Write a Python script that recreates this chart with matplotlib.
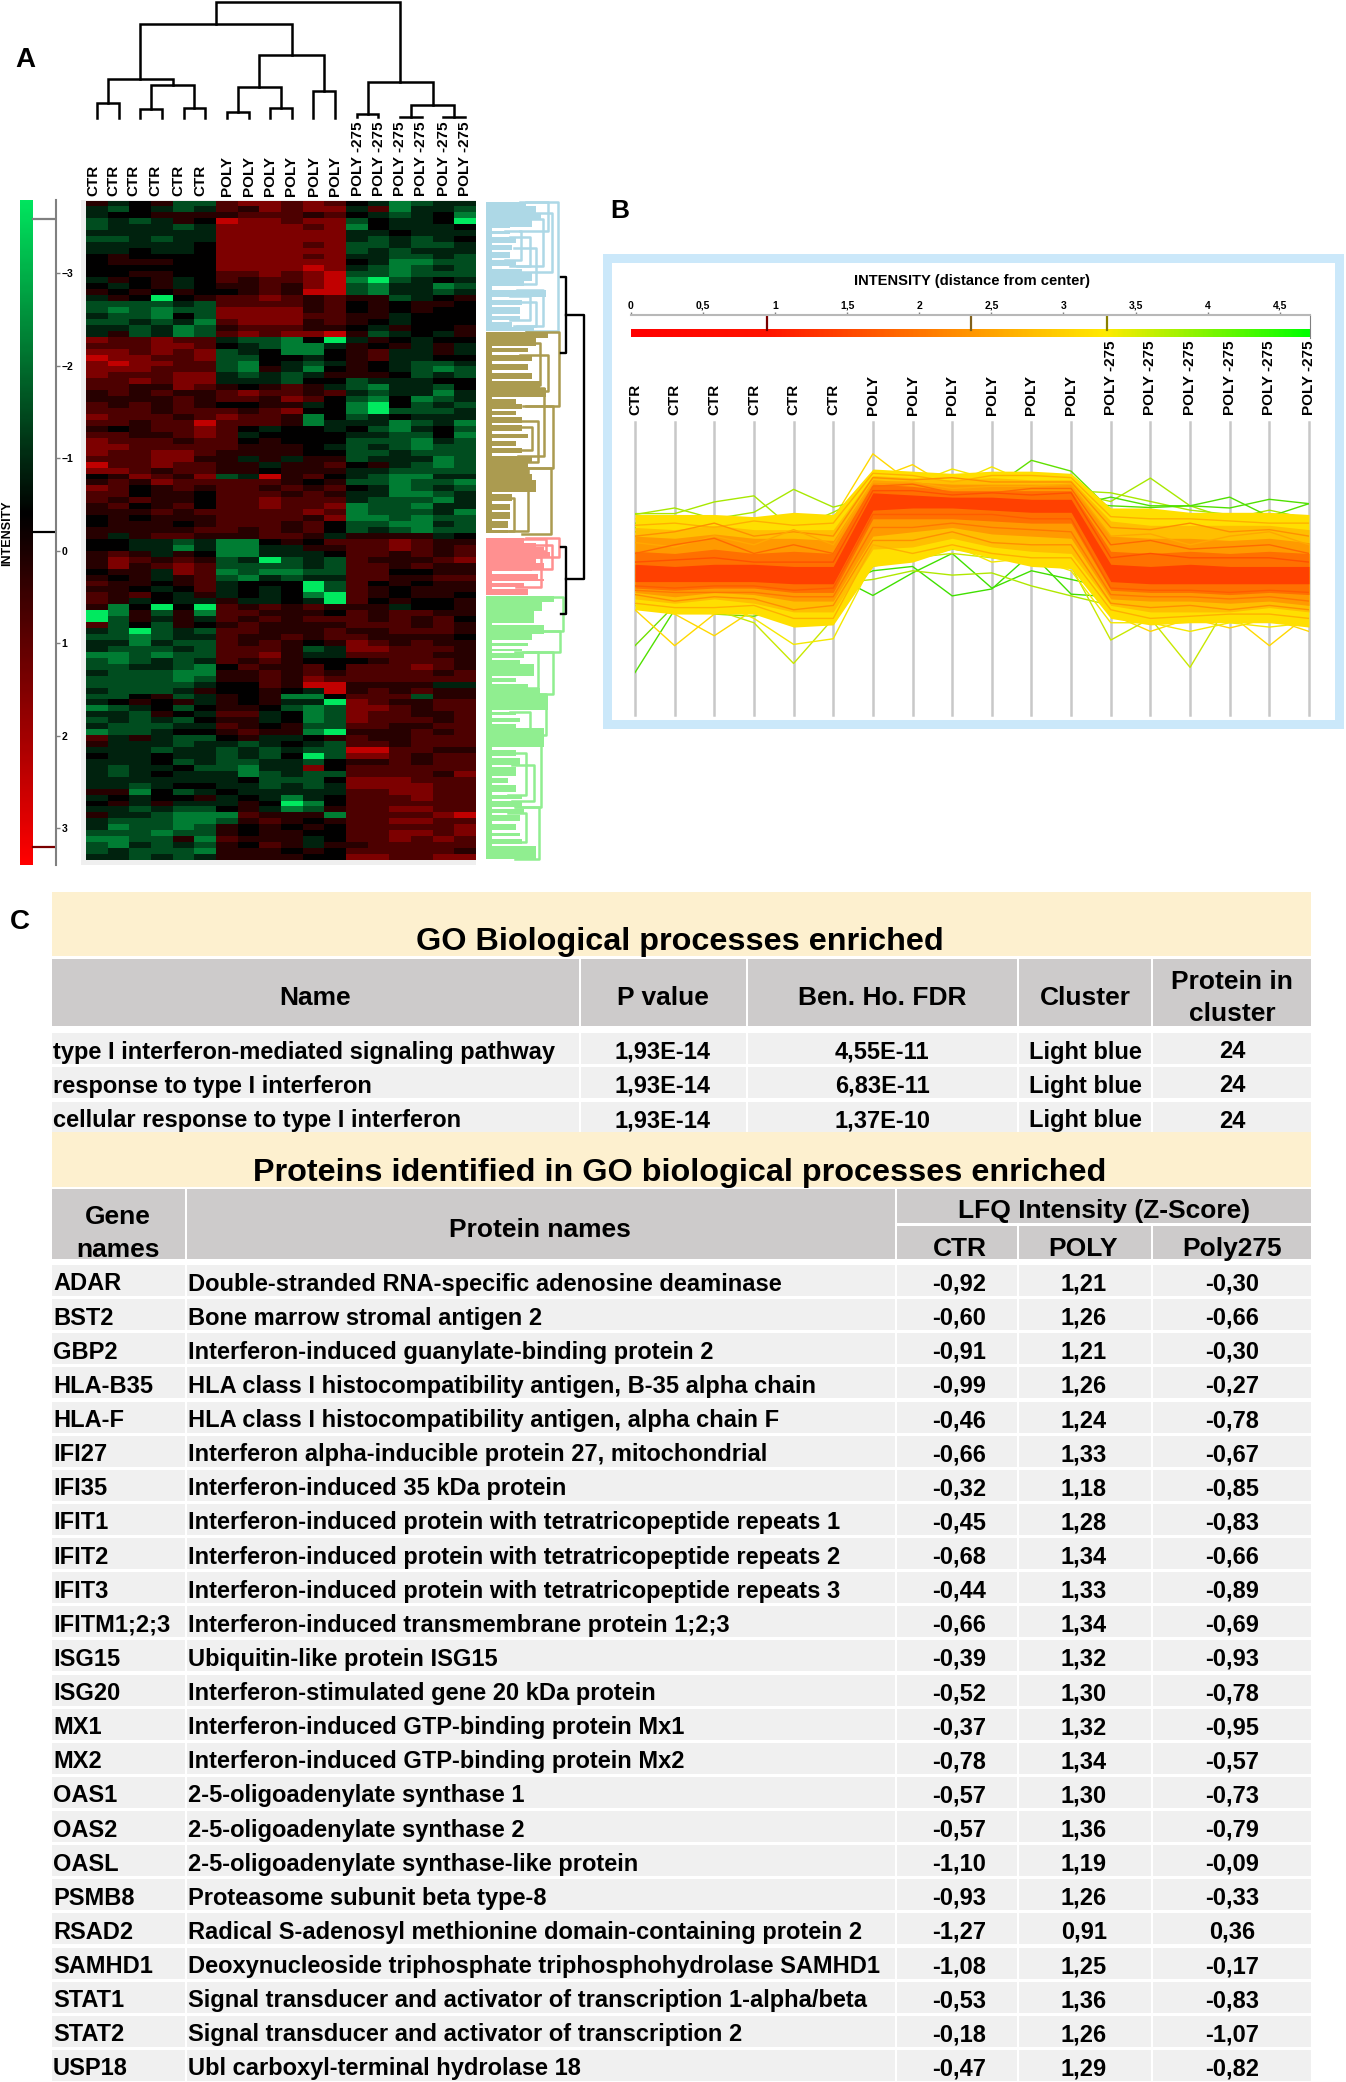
import numpy as np
import matplotlib
matplotlib.use("Agg")
import matplotlib.pyplot as plt
from matplotlib.colors import LinearSegmentedColormap
from matplotlib.patches import Rectangle

plt.rcParams['font.family'] = ['Liberation Sans', 'DejaVu Sans']
W, H = 1346, 2082

# ---------- A: heat map (one letter per cell, a = strong green ... e = black ... i = strong red)
level_values = dict(a=-3.0, b=-1.6, c=-1.0, d=-0.45, e=0.0, f=0.5, g=1.0, h=1.6, i=2.5)
heat_rows = [
 "fdefcc ghhghg edbcdd","dcedcd gfhghh dgbddc","deefff fgggfg edcdeb","cdcdfe ihhghh ceddea",
 "cdddcd hhhhgh beddde","dddddd hhhhhh ddeddd","ccdcdd hhhhhh dcdcde","ddddde hhhhgh ccdccd",
 "ddedde hhhhhh cdcddd","efeeee hhhhgh ddccdc","efffee hhhhhh edbbcc","eeeeee hhhhih dcbcdc",
 "eeffee gghghi ccbccc","dfefde gfgghi bacded","edefde ffgfhi cbddbc","fefefe efgfii cbddcd",
 "dfeaef gghgfg ffcdef","ccccdc ggggfg efeffe","cbcbcc hhhhfg efefee","dccbec hhhhgg ffdeee",
 "ccdcdb ghhhfg fedeee","ddcdbc fgggff edfeef","dfcdbc ghghhi fcdedf",
 "hgghgg dccbea dfedee","ggghhg edcbbd fefdfd","hhghgh cdebbe fgddfd","ihhggh cceede fgddee",
 "hihhgg cbedcd fedccd","hhhggg cbfdbe fedcbc","hggghh dcdcdf ffecdc","gghghh dddcee cdddee",
 "ggffhg fefgfd cbddce","fgfgff ghggfg dcddbd","ffffgf ggfhge cbebcd","gfgfgf eeffde baecdc",
 "gggfgg gfghee bacccd","hgggfg hggfbe cdeddd",
 "ggfggi gggfbd ddbcdb","fefggh gedeed ecbdec","ggffgh gdeeee ddcceb","hgggfg gefeee cccbdc",
 "hhgggg gfffed cdcbcc","hgghhg ffffee ccdccc","ggghhf fdfdff cdddbc","igghgg ffdffg efdcbc",
 "hhgfgg ffefff ddcccc","efhgfh cdifge dcbbdd","fgfhgg gggfef ccbccb","hgefgf ggfgfg edbcdc",
 "ggeffe gggfgf ddbbcd","gfgffe gghggg dcccbd","fgefge gghggh bccbdd","fffgfg gggghg bcccdb",
 "efefff ggggfh bbcbcc","efffef gggfge ccbbdc","fffffg gfgfge cdcbcc","fdfggf ffggfd ffffde",
 "eeddcd bbefeg gghgff","eeddbd bbddff gghgfg","fgfdfe bbddde ggfgfg","fhgfgf cdacdc gfffgh",
 "fhfghg ccccdc ggfgff","effdhg bcbbcc ggeeff","fefdfg cbdcdd ggffgg","gffefg deeeac gefeff",
 "ffedeg dedeac gfefff","gfgedf dedeba gfeffe","gfdedd fddeda gefeef",
 "fbeaea gfgfgf ffdeef","abfcfb ggfffe gfggff","acfdfd gfgfgg gfgfge","gcecfe fgffff gggfgf",
 "dcacdc ggfffg ffgggf","ccbcdd gffgfg gffffe",
 "ddbdcc gfgfef hgfgff","dcccdc gggfcd hhgggf","bbcbcc gghfdd ggggff","cbcdcd gfgfee efgggf",
 "ccddcb egffge ggghgf","dcccbb ffgfgf ggggfg","ccccbc ffgfhg gggggg","cccccd eegfii ffffdd",
 "dcccdf eefedi fgfgff","ccefcd fefbbe gggcff","defefd fefdda hgffgg","bcdece ffecbc hhgfgg",
 "ddcfed ggdebc hggffg","cdcdce ffdebc hgggfg","dcccdd gfefcc ggffgg","bccdee fgffba fffgfg",
 "gdfdcc efddef gffggg","fdddcd dcdedc ggfggg","dddcdd cdcdcc iiggff","eddedd cdceac hhgfgg",
 "dddecd ccddce ffgfgg","dcddec cbddhe gggggg","dcdedd dbcdcc ggggfh","dddddd deccce hhhggg",
 "ddcdee ddcdcd hhhhgg","ffbecd eddddd gghhgg","dedeef dedbde ggghgg","efdfdd dfeabe gggggg",
 "ddcdcc efdbcf gghhgg","fddcbb bgfffb gggghi","dcccbb cfgfef gghhgg","dbccbc fefefe gggggh",
 "cccbcc feffee gghhgh","bbccfb gfffde gghghg","cbdcdc fegfdf fggggg","cdcccb fffefe gggggf",
 "ddcdcd ffffee hhgghh",
]
sample_labels = ["CTR"] * 6 + ["POLY"] * 6 + ["POLY -275"] * 6
label_px_A = [93, 113, 133, 155, 178, 200, 227, 249, 270, 291, 314, 335, 358, 379, 400, 421, 444, 465]

# top dendrogram: left position, right position, join height, left child height, right child height
col_links = [
 (0, 1, 15.7, 0, 0), (2, 3, 9, 0, 0), (4, 5, 10, 0, 0), (2.5, 4.5, 33, 9, 10), (0.5, 3.5, 39, 15.7, 33),
 (6, 7, 6, 0, 0), (8, 9, 10, 0, 0), (6.5, 8.5, 31, 6, 10), (10, 11, 27.7, 0, 0), (7.5, 10.5, 63, 31, 27.7),
 (2.0, 9.0, 94, 39, 63), (12, 13, 4, 1, 1), (14, 15, 1.7, 1, 1), (16, 17, 1.7, 1, 1), (14.5, 16.5, 13.3, 1.7, 1.7),
 (12.5, 15.5, 36.3, 4, 13.3), (5.5, 14, 116, 94, 36.3),
]

# row dendrogram: (first row, last row, depth) solid runs and brackets per cluster
blue_runs = [(0.1,0.9,40),(0.9,2,50),(2,3,55),(3,4.3,46),(4.3,4.6,24),(4.6,5,6),(5,5.6,24),(5.6,6,6),(6,7,30),(7,7.4,6),
 (7.4,8.2,26),(8.2,8.6,6),(8.6,9.6,24),(9.6,10,6),(10,11,30),(11,11.4,6),(11.4,12.2,36),(12.2,13.4,46),(13.4,14.4,38),
 (14.4,15,6),(15,16.2,60),(16.2,16.6,6),(16.6,17.5,36),(17.5,17.9,6),(17.9,19,34),(19,19.4,6),(19.4,20,34),(20,20.4,6),
 (20.4,21.2,26),(21.2,21.9,48)]
blue_brackets = [(0.1,21.9,72),(2,12,66),(3,11,57),(15,21,57),(0.2,5,62),(16,20,44),(5,10,35),(6,11,44),(8,14,50),(17,21,50)]
gold_runs = [(22.1,23,62),(23,24.5,50),(24.5,24.8,6),(24.8,25.5,42),(25.5,26,6),(26,27,46),(27,27.4,6),(27.4,28.5,42),
 (28.5,28.9,6),(28.9,30,46),(30,30.4,6),(30.4,31.5,54),(31.5,33,60),(33,33.4,6),(33.4,34.2,30),(34.2,35,36),(35,35.4,6),
 (35.4,36,30),(36,36.4,6),(36.4,37.4,36),(37.4,37.8,6),(37.8,38.8,36),(38.8,39.2,6),(39.2,40,42),(40,40.4,6),(40.4,41.2,30),
 (41.2,41.6,6),(41.6,42.5,36),(42.5,43,6),(43,44,46),(44,46,42),(46,47,46),(47,49,50),(49,49.4,6),(49.4,50.6,26),(50.6,51,6),
 (51,52,24),(52,52.4,6),(52.4,53.5,24),(53.5,53.9,6),(53.9,55,22),(55,55.4,6),(55.4,56,22)]
gold_brackets = [(22.1,34.5,73),(34.5,45,67),(45,56.1,65),(24,31,54),(31.5,43,58),(37,44,52),(45,55.5,42),(50,55.5,28),(26,32,62),(38,42,46)]
pink_runs = [(56.7,57.6,38),(57.6,58.2,50),(58.2,59.2,58),(59.2,60,64),(60,61,50),(61,62,58),(62,62.4,46),(62.4,62.8,6),
 (62.8,63.6,52),(63.6,64,58),(64,64.4,6),(64.4,65,38),(65,65.4,6),(65.4,66.4,42)]
pink_brackets = [(56.7,60,73),(58,62,66),(60,65,55),(57,59,60)]
green_runs = [(66.6,67.5,68),(67.5,69,56),(69,71,48),(71,71.4,6),(71.4,73,58),(73,74,46),(74,74.4,6),(74.4,75,42),(75,75.4,6),
 (75.4,75.8,36),(75.8,76.2,6),(76.2,77,38),(77,77.3,6),(77.3,78,34),(78,80,48),(80,80.4,6),(80.4,81,30),(81,81.4,6),
 (81.4,82,42),(82,83,54),(83,85.7,62),(85.7,86.1,6),(86.1,86.6,30),(86.6,87,6),(87,87.8,34),(87.8,88.1,6),(88.1,88.7,30),
 (88.7,92,58),(92,92.4,6),(92.4,93.5,30),(93.5,93.9,6),(93.9,95,34),(95,95.3,6),(95.3,96.8,30),(96.8,97.2,6),(97.2,98,22),
 (98,98.4,6),(98.4,99.5,30),(99.5,100,6),(100,100.7,36),(100.7,101,6),(101,102,36),(102,102.4,6),(102.4,103,38),(103,103.4,6),
 (103.4,104.5,34),(104.5,104.9,6),(104.9,106,30),(106,106.4,6),(106.4,107,34),(107,107.4,6),(107.4,108.3,36),(108.3,108.6,6),
 (108.6,110.8,50)]
green_brackets = [(66.7,72.5,77),(72.5,76,74),(76,83,67),(83,90,60),(90,102,55),(102,110.8,53),(93,100,40),(103,108,40),(76,82,52),(95,101,48),(86,89,44)]
cluster_colors = ['#add8e6', '#ab9b50', '#ff9090', '#90ee90']
black_links = [(12.8, 25.6, 80, 75, 75), (58.2, 69.5, 80, 75, 75), (19.2, 63.7, 98, 80, 80)]

colourbar_ticks = [-3, -2, -1, 0, 1, 2, 3]
colourbar_marks = [-3.58, -0.2, 3.2]
colourbar_mark_colors = ['#808080', '#000000', '#7a0000']

# ---------- B: profile plot
band_top = [
 [.8,.8,.8,.75,.85,.8, 1.85,1.8,1.75,1.8,1.8,1.75, .95,.95,.85,.85,.85,.8],
 [.5,.45,.55,.45,.45,.45, 1.7,1.65,1.6,1.65,1.6,1.6, .65,.55,.55,.55,.55,.45],
 [.3,.25,.35,.25,.25,.2, 1.6,1.55,1.5,1.5,1.5,1.5, .3,.25,.25,.2,.25,.15],
 [-.05,-.1,0,-.1,-.05,-.1, 1.5,1.45,1.35,1.35,1.35,1.35, -.05,-.1,-.05,-.1,-.05,-.1],
 [-.35,-.4,-.35,-.35,-.4,-.4, 1.3,1.25,1.2,1.2,1.15,1.15, -.35,-.4,-.35,-.4,-.4,-.4],
]
band_bottom = [
 [-1.4,-1.5,-1.5,-1.5,-1.8,-1.75, -.4,-.3,0,-.2,-.4,-.45, -1.6,-1.75,-1.7,-1.7,-1.7,-1.8],
 [-1.15,-1.25,-1.15,-1.25,-1.45,-1.45, 0,.05,.25,.05,-.05,-.1, -1.3,-1.45,-1.45,-1.45,-1.35,-1.45],
 [-1,-1.1,-1,-1.05,-1.2,-1.2, .3,.4,.5,.35,.3,.25, -1.15,-1.2,-1.2,-1.25,-1.2,-1.3],
 [-.9,-.95,-.9,-.9,-1,-1, .7,.7,.7,.65,.6,.6, -.95,-1,-1,-1.05,-1,-1.05],
 [-.75,-.75,-.75,-.75,-.8,-.8, .9,.95,.95,.9,.85,.85, -.75,-.8,-.8,-.8,-.8,-.8],
]
band_colors = ['#ffdf00', '#ffbf00', '#ff9a00', '#ff7000', '#ff4000']
inner_profiles = [
 [.55,.6,.5,.65,.55,.6,1.75,1.7,1.55,1.7,1.7,1.65,.75,.7,.7,.65,.6,.6],
 [.3,.4,.6,.3,.4,.3,1.65,1.6,1.65,1.55,1.55,1.55,.5,.45,.6,.4,.45,.3],
 [.15,.05,.3,.1,.45,.1,1.55,1.55,1.4,1.45,1.45,1.5,.3,.35,.1,.3,.4,.1],
 [-.1,.1,.25,-.1,.1,-.1,1.45,1.5,1.3,1.3,1.4,1.4,.1,.2,0,.05,.1,-.1],
 [-.3,-.25,-.2,-.3,-.3,-.3,1.35,1.35,1.25,1.3,1.25,1.3,-.2,-.1,-.2,-.2,-.2,-.3],
 [-1.25,-1.35,-1.35,-1.3,-1.6,-1.6,.1,-.1,.1,-.1,-.2,-.2,-1.4,-1.6,-1.55,-1.5,-1.5,-1.6],
 [-1.05,-1.2,-1.1,-1.15,-1.4,-1.3,.2,.2,.4,.15,.1,.1,-1.25,-1.35,-1.3,-1.4,-1.3,-1.4],
 [-.95,-1,-1,-1,-1.1,-1.1,.5,.5,.6,.5,.45,.4,-1.05,-1.1,-1.1,-1.15,-1.1,-1.2],
 [-.85,-.9,-.85,-.85,-.95,-.9,.8,.8,.8,.8,.7,.7,-.9,-.95,-.95,-1,-.95,-1],
]
inner_colors = ['#ffb000', '#ff9000', '#ffa800', '#ff6a00', '#ff5000', '#ffb000', '#ff9000', '#ff7800', '#ff5c00']
outlier_profiles = [
 [.7,.6,.7,.6,.6,.7,2.2,1.5,1.2,1.3,1.3,1.3,.5,.5,.5,.4,.5,.3],
 [.5,.5,.4,.6,.3,.5,1.6,1.95,1.4,1.4,1.4,1.5,.6,.3,.4,.4,.3,.3],
 [.4,.4,.5,.4,.4,.6,1.5,1.5,1.85,1.6,1.5,1.45,.7,.5,.3,.5,.5,.4],
 [.3,.5,.4,.5,.5,.5,1.5,1.5,1.5,1.9,1.5,1.5,.6,.6,.5,.5,.4,.4],
 [.5,.4,.5,.5,.6,.7,1.4,1.4,1.3,1.4,2.05,1.8,.9,.5,.4,.5,.5,.4],
 [.82,.82,1.09,1.23,.45,.85,1.3,1.2,1.1,1.1,1.3,1.35,1.3,1.1,.9,.8,.7,.7],
 [.8,.95,.7,.85,1.38,.97,1.2,1.2,1.2,1.2,1.3,1.3,1.1,1.64,1.0,.7,.9,.7],
 [.6,.6,.7,.7,.6,.7,1.2,1.1,1.0,1.1,1.1,1.1,1.0,.96,1.0,.95,1.15,1.05],
 [.4,.3,.4,.4,.3,.5,1.1,1,1,1,1,1,1.2,1.0,1.0,1.2,.75,1.05],
 [-.6,-.5,-.6,-.5,-.7,-.6,-1.07,-.55,-.1,-.9,-.5,-.7,-.9,-.8,-.8,-.8,-.7,-.8],
 [-.9,-.8,-.7,-.9,-.6,-.9,-.5,-.4,-1.08,-.92,-.1,-1.04,-1.1,-1,-1,-.9,-1,-.9],
 [-.7,-.8,-.7,-.9,-.8,-.8,-.7,-.5,-.6,-.55,-.85,-1.08,-1.3,-1.1,-1,-1.1,-.9,-1],
 [-2.85,-1.4,-1.3,-1.4,-1.2,-1.3,-.2,-.1,.1,0,-.3,-.3,-1.2,-1.1,-1.2,-1.3,-1,-1.3],
 [-2.23,-1.3,-1.5,-1.55,-1.3,-1.5,-.3,-.2,0,-.1,-.2,-.4,-1.3,-1.3,-1.3,-1.2,-1.3,-1.3],
 [-1.4,-2.23,-1.5,-1.3,-1.5,-1.5,-.2,0,.1,-.1,-.1,-.3,-1.4,-1.5,-1.3,-1.5,-2.23,-1.5],
 [-1.3,-1.5,-2.0,-1.4,-1.7,-1.4,-.1,.1,.2,0,-.1,-.2,-1.5,-1.9,-1.6,-1.82,-1.6,-1.9],
 [-1.3,-1.4,-1.4,-1.7,-2.64,-1.6,-.4,-.2,-.1,-.2,-.3,-.4,-2.1,-1.6,-2.73,-1.2,-1.5,-1.6],
 [-1.2,-1.3,-1.2,-1.6,-2.2,-2.07,-.3,-.1,.1,-.3,-.2,-.5,-1.7,-1.7,-1.9,-1.7,-1.8,-1.7],
]
outlier_colors = ['#ffd800','#ffd800','#f4e800','#f4e800','#60e000','#a8e800','#a8e800','#50e000','#50e000',
                  '#40e000','#40e000','#b0e800','#50e000','#70e000','#ffd800','#ffd800','#c8e800','#f4e800']
scale_ticks = [0, .5, 1, 1.5, 2, 2.5, 3, 3.5, 4, 4.5]
scale_tick_labels = ['0', '0,5', '1', '1,5', '2', '2,5', '3', '3,5', '4', '4,5']
scale_marks = [0.94, 2.36, 3.30]
scale_mark_colors = ['#7a0000', '#80601a', '#8a8000']

# ---------- C: tables
go_names = ["type I interferon-mediated signaling pathway", "response to type I interferon", "cellular response to type I interferon"]
go_p = ["1,93E-14"] * 3
go_fdr = ["4,55E-11", "6,83E-11", "1,37E-10"]
go_cluster = ["Light blue"] * 3
go_count = [24, 24, 24]
genes = ["ADAR","BST2","GBP2","HLA-B35","HLA-F","IFI27","IFI35","IFIT1","IFIT2","IFIT3","IFITM1;2;3","ISG15","ISG20",
         "MX1","MX2","OAS1","OAS2","OASL","PSMB8","RSAD2","SAMHD1","STAT1","STAT2","USP18"]
proteins = ["Double-stranded RNA-specific adenosine deaminase","Bone marrow stromal antigen 2",
 "Interferon-induced guanylate-binding protein 2","HLA class I histocompatibility antigen, B-35 alpha chain",
 "HLA class I histocompatibility antigen, alpha chain F","Interferon alpha-inducible protein 27, mitochondrial",
 "Interferon-induced 35 kDa protein","Interferon-induced protein with tetratricopeptide repeats 1",
 "Interferon-induced protein with tetratricopeptide repeats 2","Interferon-induced protein with tetratricopeptide repeats 3",
 "Interferon-induced transmembrane protein 1;2;3","Ubiquitin-like protein ISG15","Interferon-stimulated gene 20 kDa protein",
 "Interferon-induced GTP-binding protein Mx1","Interferon-induced GTP-binding protein Mx2","2-5-oligoadenylate synthase 1",
 "2-5-oligoadenylate synthase 2","2-5-oligoadenylate synthase-like protein","Proteasome subunit beta type-8",
 "Radical S-adenosyl methionine domain-containing protein 2","Deoxynucleoside triphosphate triphosphohydrolase SAMHD1",
 "Signal transducer and activator of transcription 1-alpha/beta","Signal transducer and activator of transcription 2",
 "Ubl carboxyl-terminal hydrolase 18"]
z_ctr = [-.92,-.60,-.91,-.99,-.46,-.66,-.32,-.45,-.68,-.44,-.66,-.39,-.52,-.37,-.78,-.57,-.57,-1.10,-.93,-1.27,-1.08,-.53,-.18,-.47]
z_poly = [1.21,1.26,1.21,1.26,1.24,1.33,1.18,1.28,1.34,1.33,1.34,1.32,1.30,1.32,1.34,1.30,1.36,1.19,1.26,.91,1.25,1.36,1.26,1.29]
z_p275 = [-.30,-.66,-.30,-.27,-.78,-.67,-.85,-.83,-.66,-.89,-.69,-.93,-.78,-.95,-.57,-.73,-.79,-.09,-.33,.36,-.17,-.83,-1.07,-.82]


def box(x0, y0, x1, y1, **kw):
    return fig.add_axes([x0 / W, 1 - y1 / H, (x1 - x0) / W, (y1 - y0) / H], **kw)


fig = plt.figure(figsize=(W / 100, H / 100), dpi=100, facecolor='white')
ov = fig.add_axes([0, 0, 1, 1], zorder=0)
ov.set_xlim(0, W); ov.set_ylim(H, 0); ov.axis('off')


def rect(x0, y0, x1, y1, c, z=1):
    ov.add_patch(Rectangle((x0, y0), x1 - x0, y1 - y0, fc=c, ec='none', zorder=z))


def txt(x, y, s, size, ha='center', rot=0, color='black', z=3):
    ov.text(x, y, s, fontsize=size, fontweight='bold', ha=ha, va='center', rotation=rot,
            color=color, zorder=z, rotation_mode='default')


def ttxt(x, y, s, size, ha='center'):
    txt(x, y + 3, s, size, ha=ha)


# panel letters
txt(25, 60, 'A', 20); txt(620, 211, 'B', 19); txt(20, 922, 'C', 20)

# grey backdrop and heat map
rect(81, 200, 476, 865, '#efefef')
heat = np.array([[level_values[c] for c in r.replace(' ', '')] for r in heat_rows])
gr = LinearSegmentedColormap.from_list('gr', [(0, '#00ff69'), (0.5, '#000000'), (1, '#ff0000')])
ax = box(86, 201, 476, 860)
ax.imshow(heat, aspect='auto', cmap=gr, vmin=-3.3, vmax=3.3, interpolation='nearest')
ax.axis('off')

# column dendrogram
ax = box(86, 2, 476, 118.3)
ax.set_xlim(-.5, 17.5); ax.set_ylim(0, 116); ax.axis('off')
for a, b, h, ha_, hb in col_links:
    ax.plot([a, a, b, b], [ha_, h, h, hb], color='black', lw=1.8, clip_on=False, solid_joinstyle='miter')
for x, s in zip(label_px_A, sample_labels):
    ov.text(x, 196, s, fontsize=11, fontweight='bold', rotation=90, ha='center', va='bottom', zorder=3)

# row dendrograms
ax = box(486, 201, 586, 860)
ax.set_xlim(0, 100); ax.set_ylim(len(heat_rows), 0); ax.axis('off')
for runs, brs, c in zip([blue_runs, gold_runs, pink_runs, green_runs],
                        [blue_brackets, gold_brackets, pink_brackets, green_brackets], cluster_colors):
    for r0, r1, d in runs:
        ax.fill_betweenx([r0, r1], 0, d, color=c, lw=0)
    for r0, r1, d in brs:
        ax.plot([d * .55, d, d, d * .55], [r0, r0, r1, r1], color=c, lw=1.8, clip_on=False)
for r0, r1, d, d0, d1 in black_links:
    ax.plot([d0, d, d, d1], [r0, r0, r1, r1], color='black', lw=1.7, clip_on=False)

# intensity scale of panel A
ax = box(20, 200, 56, 865)
ax.set_xlim(0, 36); ax.set_ylim(3.4, -3.79)
gy = np.linspace(-3.79, 3.4, 300)[:, None]
cb = LinearSegmentedColormap.from_list('gb', [(0, '#00ff69'), (0.5, '#000000'), (1, '#ff0000')])
ax.imshow(gy, extent=[0, 13, 3.4, -3.79], aspect='auto', cmap=cb, vmin=-3.79 - .4, vmax=3.4 + .0)
ax.set_xlim(0, 36); ax.set_ylim(3.4, -3.79)
for s in ['top', 'bottom', 'left']:
    ax.spines[s].set_visible(False)
ax.spines['right'].set_color('#808080'); ax.spines['right'].set_linewidth(1.5)
ax.set_xticks([])
ax.yaxis.tick_right()
ax.set_yticks(colourbar_ticks)
ax.tick_params(axis='y', length=3, width=1, color='#808080', pad=1, labelsize=7.5)
for t in ax.get_yticklabels():
    t.set_fontweight('bold')
for v, c in zip(colourbar_marks, colourbar_mark_colors):
    ax.plot([13, 36], [v, v], color=c, lw=1.6)
txt(7, 533, 'INTENSITY', 9, rot=90)

# panel B frame
rect(603, 254, 1344, 729, '#cbe8fa'); rect(612, 263, 1335, 720, 'white', 1.5)
txt(972, 281, 'INTENSITY (distance from center)', 10.6)
ax = box(631, 315, 1310, 337.5)
ax.set_xlim(0, 4.71); ax.set_ylim(0, 1)
sc = LinearSegmentedColormap.from_list('sc', [(0, '#ff0000'), (.94 / 4.71, '#ff1400'), (2.36 / 4.71, '#ff9600'),
                                              (3.3 / 4.71, '#ffeb00'), (1, '#00ff00')])
ax.imshow(np.linspace(0, 1, 400)[None, :], extent=[0, 4.71, 0, .33], aspect='auto', cmap=sc, vmin=0, vmax=1)
ax.set_xlim(0, 4.71); ax.set_ylim(0, 1)
for s in ['left', 'bottom']:
    ax.spines[s].set_visible(False)
ax.spines['top'].set_color('#b8b8b8'); ax.spines['top'].set_linewidth(1.5)
ax.spines['right'].set_color('#808080')
ax.set_yticks([])
ax.xaxis.tick_top()
ax.set_xticks(scale_ticks); ax.set_xticklabels(scale_tick_labels, fontweight='bold', fontsize=7.5)
ax.tick_params(axis='x', length=2, width=1, color='#808080', pad=1)
for v, c in zip(scale_marks, scale_mark_colors):
    ax.plot([v, v], [.33, 1], color=c, lw=1.6)

# profile lines
ax = box(635, 422, 1309, 715)
ax.set_xlim(0, 17); ax.set_ylim(-3.83, 2.935); ax.axis('off')
xs = np.arange(18)
for x in xs:
    ax.plot([x, x], [-3.83, 2.935], color='#c8c8c8', lw=1.8, zorder=1, clip_on=False)
for top, bot, c in zip(band_top, band_bottom, band_colors):
    ax.fill_between(xs, bot, top, color=c, lw=0, zorder=3)
for vals, c in zip(inner_profiles, inner_colors):
    ax.plot(xs, vals, color=c, lw=1.0, zorder=4)
for vals, c in zip(outlier_profiles, outlier_colors):
    ax.plot(xs, vals, color=c, lw=1.0, zorder=2)
for x, s in zip(xs, sample_labels):
    ov.text(635 + x * 674 / 17, 415, s, fontsize=11, fontweight='bold', rotation=90, ha='center', va='bottom', zorder=3)

# tables
grey, row_c, beige = '#cdcbcb', '#f0f0f0', '#fdf0cf'
rect(52, 892, 1311, 956, beige)
ttxt(680, 939, 'GO Biological processes enriched', 23.3)
cols1 = [(52, 579), (581, 746), (748, 1017), (1019, 1151), (1153, 1311)]
for c0, c1 in cols1:
    rect(c0, 959, c1, 1026, grey)
head_fs, body_fs = 19, 17
for x, s in zip([315, 663, 882, 1085], ['Name', 'P value', 'Ben. Ho. FDR', 'Cluster']):
    ttxt(x, 995, s, head_fs)
ttxt(1232, 979, 'Protein in', head_fs); ttxt(1232, 1011, 'cluster', head_fs)
go_y = [1049, 1083, 1118]
for i, y in enumerate(go_y):
    for c0, c1 in cols1:
        rect(c0, y - 16, c1, y + 15, row_c)
    ttxt(53, y, go_names[i], body_fs, ha='left')
    ttxt(663, y, go_p[i], body_fs); ttxt(882, y, go_fdr[i], body_fs)
    ttxt(1085, y, go_cluster[i], body_fs); ttxt(1232, y, str(go_count[i]), body_fs)
rect(52, 1132, 1311, 1187, beige)
ttxt(680, 1170, 'Proteins identified in GO biological processes enriched', 23.3)
rect(52, 1189, 185, 1259, grey); rect(187, 1189, 895, 1259, grey)
rect(897, 1189, 1311, 1223, grey)
for c0, c1 in [(897, 1017), (1019, 1151), (1153, 1311)]:
    rect(c0, 1226, c1, 1259, grey)
ttxt(118, 1214, 'Gene', head_fs); ttxt(118, 1247, 'names', head_fs)
ttxt(540, 1227, 'Protein names', head_fs); ttxt(1104, 1208, 'LFQ Intensity (Z-Score)', head_fs)
for x, s in zip([960, 1083, 1232], ['CTR', 'POLY', 'Poly275']):
    ttxt(x, 1246, s, head_fs)
fmt = lambda v: f"{v:.2f}".replace('.', ',')
for i, g in enumerate(genes):
    y = 1281 + 34.13 * i
    for c0, c1 in [(52, 185), (187, 895), (897, 1017), (1019, 1151), (1153, 1311)]:
        rect(c0, y - 16, c1, min(y + 15, H), row_c)
    ttxt(53, y, g, body_fs, ha='left'); ttxt(188, y, proteins[i], body_fs, ha='left')
    ttxt(959, y, fmt(z_ctr[i]), body_fs); ttxt(1084, y, fmt(z_poly[i]), body_fs); ttxt(1232, y, fmt(z_p275[i]), body_fs)

fig.savefig('out.png', dpi=100, facecolor='white')
